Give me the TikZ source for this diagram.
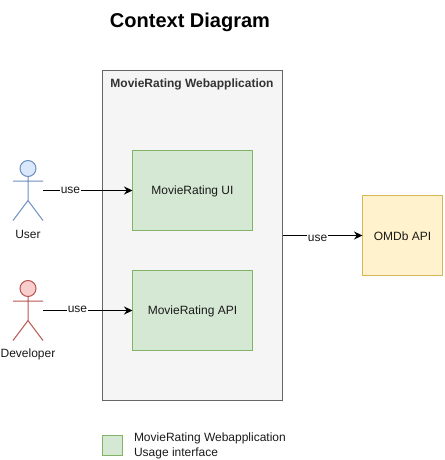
\documentclass[tikz,border=0pt]{standalone}
\usepackage{fontspec}
\setmainfont{Liberation Sans}
\usetikzlibrary{arrows.meta}
\definecolor{blueF}{HTML}{DAE8FC}\definecolor{blueD}{HTML}{6C8EBF}
\definecolor{redF}{HTML}{F8CECC}\definecolor{redD}{HTML}{B85450}
\definecolor{greenF}{HTML}{D5E8D4}\definecolor{greenD}{HTML}{82B366}
\definecolor{yellowF}{HTML}{FFF2CC}\definecolor{yellowD}{HTML}{D6B656}
\definecolor{greyF}{HTML}{F5F5F5}\definecolor{greyD}{HTML}{666666}
\definecolor{titleC}{HTML}{333333}\definecolor{labelC}{HTML}{1A1A1A}
\tikzset{
  x=1pt,y=-1pt,
  every node/.style={font=\fontsize{12}{14}\selectfont,text=labelC,inner sep=0pt,outer sep=0pt,line width=1pt},
  box/.style={draw=#1,minimum width=120pt,minimum height=80pt,align=center,text height=11pt},
  greenbox/.style={box=greenD,fill=greenF},
  actorbox/.style={minimum width=30pt,minimum height=60pt},
  conn/.style={draw=black,line width=1pt,-{Stealth[length=8.5pt,width=8pt]}},
  uselabel/.style={fill=white,inner xsep=0.5pt,inner ysep=0pt},
  pics/actor/.style 2 args={code={
    \draw[line width=1pt,draw=#2,fill=#1] (0,-22) circle[radius=8];
    \draw[line width=1pt,draw=#2] (0,-14) -- (0,10) (-15,-9.5) -- (15,-9.5) (-15,30) -- (0,10) -- (15,30);
  }}
}
\begin{document}
\begin{tikzpicture}
\useasboundingbox (0,0) rectangle (444,460);
\node[font=\fontsize{20}{24}\selectfont\bfseries,text=black] (title) at (190,22) {Context Diagram};
\node[draw=greyD,fill=greyF,minimum width=180pt,minimum height=330pt] (app) at (192.5,235.5) {};
\node[font=\fontsize{12}{14}\selectfont\bfseries,text=titleC] (apptitle) at (192,84.5) {MovieRating Webapplication};
\node[greenbox] (ui) at (192.5,190.5) {MovieRating UI};
\node[greenbox] (api) at (192.5,310.5) {MovieRating API};
\node[box=yellowD,fill=yellowF,minimum width=80pt] (omdb) at (402.5,235.5) {OMDb API};
\node[actorbox] (user) at (28,190.5) {};
\node[actorbox] (dev) at (28,310.5) {};
\pic at (user.center) {actor={blueF}{blueD}};
\pic at (dev.center) {actor={redF}{redD}};
\node (userlabel) at (28,234.5) {User};
\node (devlabel) at (28,354.5) {Developer};
\draw[conn] (user.east) -- (ui.west);
\draw[conn] (dev.east) -- (api.west);
\draw[conn] (app.east) -- (omdb.west);
\node[uselabel] (use1) at (70.5,190) {use};
\node[uselabel] (use2) at (77.5,309) {use};
\node[uselabel] (use3) at (317.5,238) {use};
\node[draw=greenD,fill=greenF,minimum width=20pt,minimum height=20pt] (legend) at (112.5,445.5) {};
\node[anchor=west,align=left,font=\fontsize{12}{15}\selectfont] (legendtext) at (134,446) {MovieRating Webapplication\\Usage interface};
\end{tikzpicture}
\end{document}
